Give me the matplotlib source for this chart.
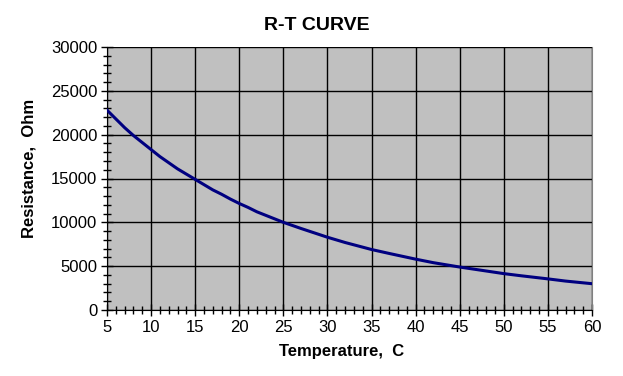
import numpy as np
import matplotlib.pyplot as plt
from matplotlib.ticker import MultipleLocator

# readings taken off the reference curve
temperature = [5, 6, 7, 8, 9, 10, 11, 12, 13, 14, 15, 16, 17, 18, 19, 20,
               21, 22, 23, 24, 25, 27, 30, 32, 35, 37, 40, 42, 45, 47, 50,
               52, 55, 57, 60]
resistance = [22800, 21800, 20800, 19900, 19100, 18300, 17500, 16800, 16100,
              15500, 14900, 14300, 13700, 13200, 12650, 12150, 11700, 11200,
              10800, 10400, 10000, 9300, 8300, 7700, 6900, 6450, 5800, 5400,
              4900, 4600, 4150, 3900, 3550, 3300, 3000]

plt.rcParams['font.family'] = ['Liberation Sans', 'DejaVu Sans']

W, H = 623, 376
fig = plt.figure(figsize=(W / 100, H / 100), dpi=100)
ax = fig.add_axes([107 / W, 1 - 310 / H, 485 / W, 263 / H])
ax.set_facecolor('#c0c0c0')

ax.plot(temperature, resistance, color='#000080', lw=2.2, zorder=3)

ax.set_xlim(5, 60)
ax.set_ylim(0, 30000)
ax.xaxis.set_major_locator(MultipleLocator(5))
ax.xaxis.set_minor_locator(MultipleLocator(1))
ax.yaxis.set_major_locator(MultipleLocator(5000))
ax.yaxis.set_minor_locator(MultipleLocator(1000))
ax.grid(True, which='major', color='black', lw=1.0)
ax.set_axisbelow(True)

ax.tick_params(which='major', direction='inout', length=8, width=1, labelsize=12, pad=3)
ax.tick_params(which='minor', direction='inout', length=6, width=1)
ax.spines['top'].set_visible(False)
ax.spines['right'].set_color('#808080')
ax.spines['left'].set_color('black')
ax.spines['bottom'].set_color('black')

fig.text(317 / W, 1 - 25 / H, 'R-T CURVE', fontsize=14, fontweight='bold',
         ha='center', va='center')
ax.set_xlabel('Temperature,  C', fontsize=12, fontweight='bold')
ax.xaxis.set_label_coords((342 - 107) / 485, (310 - 344) / 263)
ax.set_ylabel('Resistance,  Ohm', fontsize=12, fontweight='bold', va='center')
ax.yaxis.set_label_coords((29 - 107) / 485, (310 - 168) / 263)

fig.savefig('out.png', dpi=100, facecolor='white')
